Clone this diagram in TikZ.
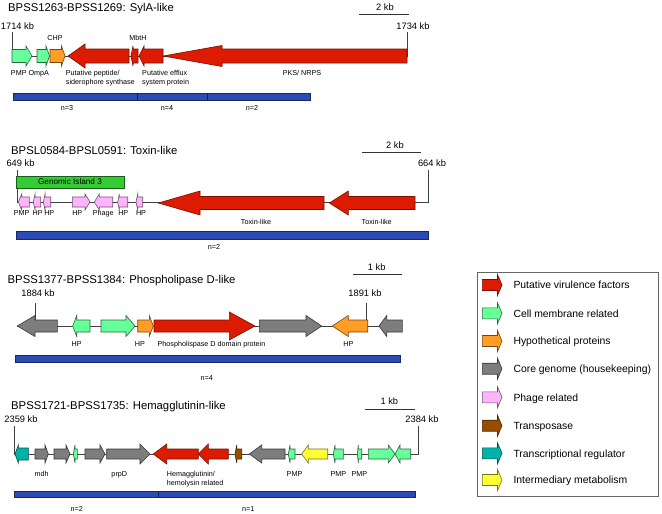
\documentclass[tikz,border=0pt]{standalone}
\usepackage{fontspec}
\setmainfont{Liberation Sans}
\usetikzlibrary{positioning}

\definecolor{virred}{RGB}{221,27,0}
\definecolor{memgreen}{RGB}{102,255,153}
\definecolor{hyporange}{RGB}{255,157,38}
\definecolor{coregrey}{RGB}{125,125,125}
\definecolor{phagepink}{RGB}{252,181,250}
\definecolor{tnpbrown}{RGB}{153,77,0}
\definecolor{regteal}{RGB}{0,178,168}
\definecolor{metyellow}{RGB}{255,255,51}
\definecolor{barblue}{RGB}{43,74,178}
\definecolor{gigreen}{RGB}{51,204,51}

\tikzset{
	every node/.style = {inner sep=0pt},
	ttl/.style = {font=\fontsize{11.3}{13}\selectfont, anchor=base west},
	kb/.style = {font=\fontsize{9.3}{11}\selectfont, anchor=base},
	lbl/.style = {font=\fontsize{7.2}{9}\selectfont, anchor=base},
	leg/.style = {font=\fontsize{10.4}{12}\selectfont, anchor=base west},
	bb/.style = {draw=black!75, line width=0.6pt},
	scalebar/.style = {draw=black!80, line width=0.8pt},
	bar/.style = {fill=barblue, draw=barblue!55!black, line width=0.6pt},
	divider/.style = {draw=barblue!40!black, line width=0.6pt},
	virgene/.style = {fill=virred, draw=virred!55!black, line width=0.6pt},
	memgene/.style = {fill=memgreen, draw=memgreen!40!black, line width=0.6pt},
	hypgene/.style = {fill=hyporange, draw=hyporange!45!black, line width=0.6pt},
	coregene/.style = {fill=coregrey, draw=coregrey!45!black, line width=0.6pt},
	phagegene/.style = {fill=phagepink, draw=phagepink!45!black, line width=0.6pt},
	tnpgene/.style = {fill=tnpbrown, draw=tnpbrown!50!black, line width=0.6pt},
	reggene/.style = {fill=regteal, draw=regteal!45!black, line width=0.6pt},
	metgene/.style = {fill=metyellow, draw=metyellow!45!black, line width=0.6pt},
	gibox/.style = {draw=gigreen!45!black, fill=gigreen, line width=0.6pt, minimum width=108pt, minimum height=12pt, font=\fontsize{8.2}{10}\selectfont},
	legbox/.style = {draw=black!60, line width=0.8pt}
}

% gene arrow: style, tail x, head base x, tip x, centre y, body half height, head half height
\newcommand{\gene}[7]{%
	\filldraw[#1] (#2,#5-#6) -- (#3,#5-#6) -- (#3,#5-#7) -- (#4,#5) -- (#3,#5+#7) -- (#3,#5+#6) -- (#2,#5+#6) -- cycle;}

\begin{document}
\begin{tikzpicture}[x=1pt, y=-1pt]
		\useasboundingbox (0,0) rectangle (662,514);
		% SylA-like
		\node[ttl] (t1) at (8,11) {BPSS1263-BPSS1269: SylA-like};
		\node[kb] (sc1) at (385,10.5) {2 kb};
		\coordinate (sc1a) at (359,14);
		\coordinate (sc1b) at (409,14);
		\draw[scalebar] (sc1a) -- (sc1b);
		\node[kb] (k1714) at (17.5,29) {1714 kb};
		\node[kb] (k1734) at (413,29) {1734 kb};
		\coordinate (s1a) at (12,32);
		\coordinate (s1b) at (12,56);
		\coordinate (e1a) at (407,32);
		\coordinate (e1b) at (407,56);
		\draw[bb] (s1a) -- (s1b) -- (e1b) -- (e1a);
		\gene{memgene}{12}{26}{32}{56}{6.5}{10}
		\gene{memgene}{37}{46}{49.5}{56}{6.5}{10}
		\gene{hypgene}{50}{61.5}{65}{56}{6.5}{10}
		\gene{virgene}{129}{85}{68}{56}{7}{12}
		\gene{virgene}{138}{133}{131}{56}{7}{10}
		\gene{virgene}{163}{144}{139}{56}{7}{10}
		\gene{virgene}{407}{222}{163}{56}{7}{10.5}
		\node[lbl] (chp) at (55,40.3) {CHP};
		\node[lbl] (mbth) at (138,40.3) {MbtH};
		\node[lbl] (ompa) at (30,75.3) {PMP OmpA};
		\node[lbl, anchor=base west] (pps1) at (65.7,75.3) {Putative peptide/};
		\node[lbl, anchor=base west] (pps2) at (65.7,84.5) {siderophore synthase};
		\node[lbl, anchor=base west] (eff1) at (142,75.3) {Putative efflux};
		\node[lbl, anchor=base west] (eff2) at (142,84.5) {system protein};
		\node[lbl] (pks) at (302,75.3) {PKS/ NRPS};
		\draw[bar] (13,93) rectangle (310,100);
		\draw[divider] (137,93) -- (137,100);
		\draw[divider] (207,93) -- (207,100);
		\node[lbl] (n1a) at (67,110) {n=3};
		\node[lbl] (n1b) at (167,110) {n=4};
		\node[lbl] (n1c) at (252,110) {n=2};

		% Toxin-like
		\node[ttl] (t2) at (11,154) {BPSL0584-BPSL0591: Toxin-like};
		\node[kb] (sc2) at (395,148.5) {2 kb};
		\coordinate (sc2a) at (362,152.7);
		\coordinate (sc2b) at (421,152.7);
		\draw[scalebar] (sc2a) -- (sc2b);
		\node[kb] (k649) at (20.5,166.7) {649 kb};
		\node[kb] (k664) at (432,166.7) {664 kb};
		\coordinate (s2a) at (17,170);
		\coordinate (s2b) at (17,202);
		\coordinate (e2a) at (428,170);
		\coordinate (e2b) at (428,202);
		\draw[bb] (s2a) -- (s2b) -- (e2b) -- (e2a);
		\node[gibox] (gi3) at (70,182) {Genomic Island 3};
		\gene{phagegene}{29.3}{21.7}{18.3}{202}{5}{8}
		\gene{phagegene}{40.7}{35}{33.3}{202}{5}{8}
		\gene{phagegene}{50.7}{45}{43.3}{202}{5}{8}
		\gene{phagegene}{72.3}{85}{90}{202}{5}{8}
		\gene{phagegene}{112.7}{99.3}{94.3}{202}{5}{8}
		\gene{phagegene}{127.7}{119.3}{117.7}{202}{5}{8}
		\gene{phagegene}{142.7}{137.7}{136}{202}{5}{8}
		\gene{virgene}{324}{200}{158.3}{203}{6.5}{12}
		\gene{virgene}{415}{348.3}{329.3}{203}{6.5}{12}
		\node[lbl] (pmp2) at (21.6,215.3) {PMP};
		\node[lbl] (hp2a) at (37.7,215.3) {HP};
		\node[lbl] (hp2b) at (49.3,215.3) {HP};
		\node[lbl] (hp2c) at (77.3,215.3) {HP};
		\node[lbl] (phg2) at (103.3,215.3) {Phage};
		\node[lbl] (hp2d) at (123.3,215.3) {HP};
		\node[lbl] (hp2e) at (141,215.3) {HP};
		\node[lbl] (tox2a) at (256,224.3) {Toxin-like};
		\node[lbl] (tox2b) at (376.7,224.3) {Toxin-like};
		\draw[bar] (16,231.7) rectangle (428,239.3);
		\node[lbl] (n2a) at (214,249) {n=2};

		% Phospholipase D-like
		\node[ttl] (t3) at (7.5,283.3) {BPSS1377-BPSS1384: Phospholipase D-like};
		\node[kb] (sc3) at (376.7,270) {1 kb};
		\coordinate (sc3a) at (352.7,274);
		\coordinate (sc3b) at (401.7,274);
		\draw[scalebar] (sc3a) -- (sc3b);
		\node[kb] (k1884) at (38,296.7) {1884 kb};
		\node[kb] (k1891) at (365,296.7) {1891 kb};
		\coordinate (s3a) at (35,303);
		\coordinate (s3b) at (35,326);
		\coordinate (e3a) at (366,303);
		\coordinate (e3b) at (366,326);
		\coordinate (l3) at (17,326);
		\coordinate (r3) at (402,326);
		\draw[bb] (l3) -- (r3);
		\draw[bb] (s3a) -- (s3b);
		\draw[bb] (e3a) -- (e3b);
		\gene{coregene}{57.3}{35}{17.3}{326}{6}{10.5}
		\gene{memgene}{90}{76.7}{72.7}{326}{6}{10.5}
		\gene{memgene}{101}{126}{135}{326}{6}{10.5}
		\gene{hypgene}{137.7}{149.3}{153.3}{326}{6}{10.5}
		\gene{virgene}{154}{229.3}{255}{326}{6}{14}
		\gene{coregene}{259.3}{306}{321.7}{326}{6}{10.5}
		\gene{hypgene}{367.7}{348.3}{332.3}{326}{6}{10.5}
		\gene{coregene}{402.3}{386.7}{379}{326}{6}{10.5}
		\node[lbl] (hp3a) at (76.7,346) {HP};
		\node[lbl] (hp3b) at (140,346) {HP};
		\node[lbl] (pld3) at (211.5,346) {Phospholispase D domain protein};
		\node[lbl] (hp3c) at (348.3,346) {HP};
		\draw[bar] (15,355) rectangle (400,362.3);
		\node[lbl] (n3a) at (206.7,380.3) {n=4};

		% Hemagglutinin-like
		\node[ttl] (t4) at (11,409) {BPSS1721-BPSS1735: Hemagglutinin-like};
		\node[kb] (sc4) at (389.3,404) {1 kb};
		\coordinate (sc4a) at (365,409);
		\coordinate (sc4b) at (415,409);
		\draw[scalebar] (sc4a) -- (sc4b);
		\node[kb] (k2359) at (21,422.7) {2359 kb};
		\node[kb] (k2384) at (422,422.7) {2384 kb};
		\coordinate (s4a) at (14.3,426);
		\coordinate (s4b) at (14.3,454);
		\coordinate (e4a) at (418.3,426);
		\coordinate (e4b) at (418.3,454);
		\draw[bb] (s4a) -- (s4b) -- (e4b) -- (e4a);
		\gene{reggene}{28.3}{18.3}{15}{454}{6}{9}
		\gene{coregene}{35}{45}{48.3}{454}{5}{9}
		\gene{coregene}{54}{66}{70}{454}{5}{9}
		\gene{memgene}{77.3}{75}{73.3}{454}{5}{9}
		\gene{coregene}{85}{100}{105}{454}{5}{9}
		\gene{coregene}{106.7}{140}{150}{454}{5}{10}
		\gene{virgene}{198.3}{166.7}{153.3}{454}{5}{10}
		\gene{virgene}{228.3}{208.3}{198.3}{454}{5}{10}
		\gene{tnpgene}{241.7}{236.7}{235}{454}{5}{9}
		\gene{coregene}{285}{261.7}{249.3}{454}{5}{9}
		\gene{memgene}{295}{290}{288.3}{454}{5}{9}
		\gene{metgene}{327.7}{308.3}{301.7}{454}{5}{9}
		\gene{memgene}{343.3}{335}{333.3}{454}{5}{9}
		\gene{memgene}{361.7}{358.3}{357.3}{454}{5}{9}
		\gene{memgene}{368.3}{388.3}{395}{454}{5}{9}
		\gene{memgene}{410.7}{400}{395}{454}{5}{9}
		\node[lbl] (mdh) at (41.7,476) {mdh};
		\node[lbl] (prpd) at (119.3,476) {prpD};
		\node[lbl, anchor=base west] (hem1) at (166.7,476) {Hemagglutinin/};
		\node[lbl, anchor=base west] (hem2) at (166.7,485.3) {hemolysin related};
		\node[lbl] (pmp4a) at (294.5,476) {PMP};
		\node[lbl] (pmp4b) at (338.3,476) {PMP};
		\node[lbl] (pmp4c) at (359.3,476) {PMP};
		\draw[bar] (14,491) rectangle (415,497.7);
		\draw[divider] (158.3,491) -- (158.3,497.7);
		\node[lbl] (n4a) at (76.7,511.5) {n=2};
		\node[lbl] (n4b) at (248.3,511.5) {n=1};

		% legend
		\draw[legbox] (477,272) rectangle (658,496);
		\gene{virgene}{482.3}{497.5}{502}{285}{5.5}{10.5}
		\gene{memgene}{482.3}{497.5}{502}{313.3}{5.5}{10.5}
		\gene{hypgene}{482.3}{497.5}{502}{341}{5.5}{10.5}
		\gene{coregene}{482.3}{497.5}{502}{368.7}{5.5}{10.5}
		\gene{phagegene}{482.3}{497.5}{502}{397.3}{5.5}{10.5}
		\gene{tnpgene}{482.3}{497.5}{502}{425.7}{5.5}{10.5}
		\gene{reggene}{482.3}{497.5}{502}{453.3}{5.5}{10.5}
		\gene{metgene}{482.3}{497.5}{502}{480}{5.5}{10.5}
		\node[leg] (lg1) at (513.3,288.7) {Putative virulence factors};
		\node[leg] (lg2) at (513.3,317) {Cell membrane related};
		\node[leg] (lg3) at (513.3,344.7) {Hypothetical proteins};
		\node[leg] (lg4) at (513.3,372.4) {Core genome (housekeeping)};
		\node[leg] (lg5) at (513.3,401) {Phage related};
		\node[leg] (lg6) at (513.3,429.4) {Transposase};
		\node[leg] (lg7) at (513.3,457) {Transcriptional regulator};
		\node[leg] (lg8) at (513.3,483.7) {Intermediary metabolism};
\end{tikzpicture}
\end{document}
